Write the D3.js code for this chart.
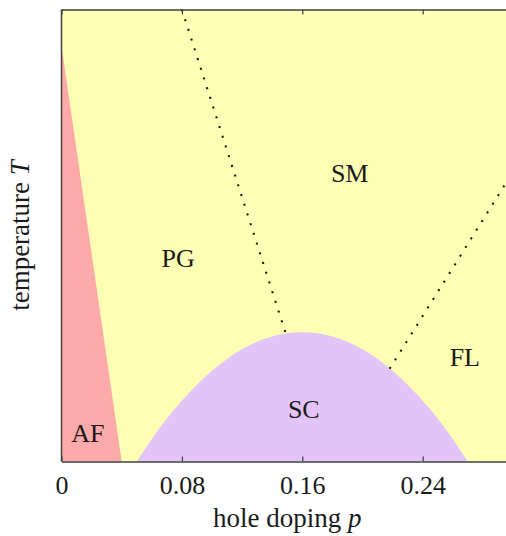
<!DOCTYPE html>
<html>
<head>
<meta charset="utf-8">
<script src="https://cdn.jsdelivr.net/npm/d3@7"></script>
<style>
  html, body { margin: 0; padding: 0; background: #fff; }
  svg { display: block; }
  text { font-family: "Liberation Serif", "DejaVu Serif", serif; fill: #1a1a1a; }
</style>
</head>
<body>
<svg id="chart" width="506" height="536"></svg>
<script>
// ---- data ----
const xDomain = [0, 0.3];
const yDomain = [0, 1];
const xTicks = [0, 0.08, 0.16, 0.24];
const xTickLabels = ["0", "0.08", "0.16", "0.24"];

// antiferromagnet region (p, T)
const afRegion = [[0, 0], [0, 0.92], [0.04, 0]];

// superconducting dome (p, T)
const scP = [0.05, 0.07, 0.09, 0.11, 0.13, 0.15, 0.16, 0.17, 0.19, 0.21, 0.23, 0.25, 0.27];
const scT = [0.0, 0.095, 0.170, 0.227, 0.265, 0.284, 0.286, 0.284, 0.265, 0.227, 0.170, 0.095, 0.0];

// crossover lines (dotted)
const pgLine = [[0.08, 1.0], [0.149, 0.283]];
const flLine = [[0.218, 0.205], [0.3, 0.641]];

// region labels
const regionNames = ["SM", "PG", "FL", "SC", "AF"];
const regionP = [0.1915, 0.0775, 0.268, 0.161, 0.0175];
const regionT = [0.638, 0.449, 0.229, 0.114, 0.061];

// ---- layout ----
const svg = d3.select("#chart");
const mLeft = 61.5, mTop = 9.5, mRight = 513, mBottom = 461.5;

const x = d3.scaleLinear().domain(xDomain).range([mLeft, mRight]);
const y = d3.scaleLinear().domain(yDomain).range([mBottom, mTop]);

const colors = {
  bg: "#FEFEB4",
  af: "#FFAAAA",
  sc: "#E2C4F8",
  axis: "#404040"
};

const g = svg.append("g");

g.append("rect")
  .attr("x", x(xDomain[0])).attr("y", y(yDomain[1]))
  .attr("width", x(xDomain[1]) - x(xDomain[0]))
  .attr("height", y(yDomain[0]) - y(yDomain[1]))
  .attr("fill", colors.bg);

const line = d3.line().x(d => x(d[0])).y(d => y(d[1]));

g.append("path")
  .attr("d", line(afRegion) + "Z")
  .attr("fill", colors.af);

const scPts = scP.map((p, i) => [p, scT[i]]);
g.append("path")
  .attr("d", d3.line().x(d => x(d[0])).y(d => y(d[1])).curve(d3.curveMonotoneX)(scPts) + "Z")
  .attr("fill", colors.sc);

[pgLine, flLine].forEach(l => {
  g.append("path")
    .attr("d", line(l))
    .attr("fill", "none")
    .attr("stroke", "#111")
    .attr("stroke-width", 2)
    .attr("stroke-dasharray", "2 8.2");
});

regionNames.forEach((name, i) => {
  g.append("text")
    .attr("x", x(regionP[i]))
    .attr("y", y(regionT[i]))
    .attr("text-anchor", "middle")
    .attr("dominant-baseline", "central")
    .attr("font-size", 26)
    .text(name);
});

const xAxisB = d3.axisBottom(x).tickValues(xTicks)
  .tickFormat((d, i) => xTickLabels[i]).tickSizeInner(-5).tickSizeOuter(0).tickPadding(14);
const gb = svg.append("g").attr("transform", `translate(0,${mBottom})`).call(xAxisB);
gb.select(".domain").attr("stroke", colors.axis).attr("stroke-width", 1.5);
gb.selectAll(".tick line").attr("stroke", colors.axis).attr("stroke-width", 1.2);
gb.selectAll(".tick text").attr("font-size", 26).attr("font-family", "Liberation Serif, serif").attr("fill", "#1a1a1a");

const xAxisT = d3.axisTop(x).tickValues(xTicks).tickFormat("").tickSizeInner(-5).tickSizeOuter(0);
const gt = svg.append("g").attr("transform", `translate(0,${mTop})`).call(xAxisT);
gt.select(".domain").attr("stroke", colors.axis).attr("stroke-width", 1.5);
gt.selectAll(".tick line").attr("stroke", colors.axis).attr("stroke-width", 1.2);

svg.append("line")
  .attr("x1", mLeft).attr("x2", mLeft).attr("y1", mTop).attr("y2", mBottom)
  .attr("stroke", colors.axis).attr("stroke-width", 1.5);

const xt = svg.append("text")
  .attr("x", (mLeft + mRight) / 2).attr("y", 527)
  .attr("text-anchor", "middle").attr("font-size", 27);
xt.append("tspan").text("hole doping ");
xt.append("tspan").attr("font-style", "italic").text("p");

const yt = svg.append("text")
  .attr("transform", `translate(29,${(mTop + mBottom) / 2}) rotate(-90)`)
  .attr("text-anchor", "middle").attr("font-size", 27);
yt.append("tspan").text("temperature ");
yt.append("tspan").attr("font-style", "italic").text("T");
</script>
</body>
</html>
